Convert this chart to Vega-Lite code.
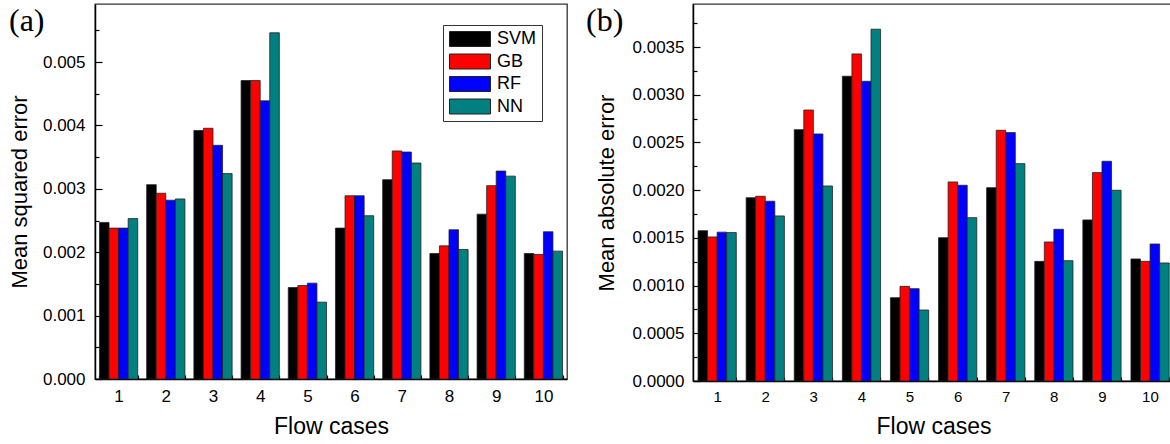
{
  "$schema": "https://vega.github.io/schema/vega-lite/v6.json",
  "padding": {"left": 7, "top": 3, "right": 0, "bottom": 0},
  "spacing": 17,
  "config": {
    "font": "Liberation Sans",
    "view": {"stroke": "#333", "strokeWidth": 1.3},
    "axis": {
      "domainColor": "#000", "domainWidth": 1.5, "tickColor": "#000", "tickWidth": 1.2,
      "labelColor": "#000", "titleColor": "#000", "labelFont": "Liberation Sans",
      "titleFont": "Liberation Sans", "titleFontWeight": "normal", "grid": false
    },
    "legend": {
      "orient": "none", "title": null,
      "symbolType": "M-2.733,-1H2.733V1H-2.733Z", "symbolSize": 225,
      "symbolStrokeColor": "#222", "symbolStrokeWidth": 1,
      "symbolOffset": 13, "labelOffset": 18,
      "labelExpr": "datum.label + ' '",
      "labelFontSize": 18, "labelFont": "Liberation Sans", "labelColor": "#000",
      "strokeColor": "#333", "fillColor": "#fff", "padding": 5, "rowPadding": 2.5
    },
    "title": {"font": "Liberation Serif", "fontSize": 32, "fontWeight": "normal", "color": "#000"}
  },
  "datasets": {
    "mse": [
      {"case": 1, "model": "SVM", "value": 0.00247}, {"case": 1, "model": "GB", "value": 0.00238}, {"case": 1, "model": "RF", "value": 0.00238}, {"case": 1, "model": "NN", "value": 0.00253},
      {"case": 2, "model": "SVM", "value": 0.003065}, {"case": 2, "model": "GB", "value": 0.00293}, {"case": 2, "model": "RF", "value": 0.00282}, {"case": 2, "model": "NN", "value": 0.00284},
      {"case": 3, "model": "SVM", "value": 0.00392}, {"case": 3, "model": "GB", "value": 0.003955}, {"case": 3, "model": "RF", "value": 0.003686}, {"case": 3, "model": "NN", "value": 0.00324},
      {"case": 4, "model": "SVM", "value": 0.004708}, {"case": 4, "model": "GB", "value": 0.004708}, {"case": 4, "model": "RF", "value": 0.004387}, {"case": 4, "model": "NN", "value": 0.005461},
      {"case": 5, "model": "SVM", "value": 0.001443}, {"case": 5, "model": "GB", "value": 0.001474}, {"case": 5, "model": "RF", "value": 0.001512}, {"case": 5, "model": "NN", "value": 0.001212},
      {"case": 6, "model": "SVM", "value": 0.00238}, {"case": 6, "model": "GB", "value": 0.00289}, {"case": 6, "model": "RF", "value": 0.00289}, {"case": 6, "model": "NN", "value": 0.002575},
      {"case": 7, "model": "SVM", "value": 0.003144}, {"case": 7, "model": "GB", "value": 0.003597}, {"case": 7, "model": "RF", "value": 0.00358}, {"case": 7, "model": "NN", "value": 0.003407},
      {"case": 8, "model": "SVM", "value": 0.00198}, {"case": 8, "model": "GB", "value": 0.0021}, {"case": 8, "model": "RF", "value": 0.002354}, {"case": 8, "model": "NN", "value": 0.002043},
      {"case": 9, "model": "SVM", "value": 0.0026}, {"case": 9, "model": "GB", "value": 0.00305}, {"case": 9, "model": "RF", "value": 0.00328}, {"case": 9, "model": "NN", "value": 0.0032},
      {"case": 10, "model": "SVM", "value": 0.00198}, {"case": 10, "model": "GB", "value": 0.001964}, {"case": 10, "model": "RF", "value": 0.002322}, {"case": 10, "model": "NN", "value": 0.002017}
    ],
    "mae": [
      {"case": 1, "model": "SVM", "value": 0.001575}, {"case": 1, "model": "GB", "value": 0.00151}, {"case": 1, "model": "RF", "value": 0.00156}, {"case": 1, "model": "NN", "value": 0.001555},
      {"case": 2, "model": "SVM", "value": 0.001921}, {"case": 2, "model": "GB", "value": 0.001936}, {"case": 2, "model": "RF", "value": 0.001884}, {"case": 2, "model": "NN", "value": 0.00173},
      {"case": 3, "model": "SVM", "value": 0.002634}, {"case": 3, "model": "GB", "value": 0.00284}, {"case": 3, "model": "RF", "value": 0.002589}, {"case": 3, "model": "NN", "value": 0.002044},
      {"case": 4, "model": "SVM", "value": 0.003194}, {"case": 4, "model": "GB", "value": 0.003428}, {"case": 4, "model": "RF", "value": 0.003141}, {"case": 4, "model": "NN", "value": 0.003687},
      {"case": 5, "model": "SVM", "value": 0.000873}, {"case": 5, "model": "GB", "value": 0.000992}, {"case": 5, "model": "RF", "value": 0.000968}, {"case": 5, "model": "NN", "value": 0.000744},
      {"case": 6, "model": "SVM", "value": 0.001502}, {"case": 6, "model": "GB", "value": 0.002086}, {"case": 6, "model": "RF", "value": 0.002051}, {"case": 6, "model": "NN", "value": 0.001712},
      {"case": 7, "model": "SVM", "value": 0.002026}, {"case": 7, "model": "GB", "value": 0.002628}, {"case": 7, "model": "RF", "value": 0.002603}, {"case": 7, "model": "NN", "value": 0.002278},
      {"case": 8, "model": "SVM", "value": 0.001254}, {"case": 8, "model": "GB", "value": 0.001457}, {"case": 8, "model": "RF", "value": 0.00159}, {"case": 8, "model": "NN", "value": 0.001261},
      {"case": 9, "model": "SVM", "value": 0.001688}, {"case": 9, "model": "GB", "value": 0.002184}, {"case": 9, "model": "RF", "value": 0.002303}, {"case": 9, "model": "NN", "value": 0.001999},
      {"case": 10, "model": "SVM", "value": 0.001279}, {"case": 10, "model": "GB", "value": 0.001254}, {"case": 10, "model": "RF", "value": 0.001436}, {"case": 10, "model": "NN", "value": 0.001237}
    ]
  },
  "hconcat": [
    {
      "width": 472, "height": 375,
      "data": {"name": "mse"},
      "title": {"text": "(a)", "anchor": "start", "frame": "group", "dx": -86, "dy": 34, "offset": 0},
      "mark": {"type": "bar", "stroke": "#222", "strokeWidth": 0.8},
      "encoding": {
        "x": {
          "field": "case", "type": "ordinal", "title": "Flow cases",
          "scale": {"paddingInner": 0.19, "paddingOuter": 0.095},
          "axis": {"labelAngle": 0, "labelFontSize": 17, "titleFontSize": 23, "tickBand": "extent", "tickSize": -4, "labelPadding": 13, "titlePadding": 11}
        },
        "xOffset": {"field": "model", "sort": ["SVM", "GB", "RF", "NN"]},
        "y": {
          "field": "value", "type": "quantitative", "title": "Mean squared error",
          "scale": {"domain": [0, 0.005915], "nice": false},
          "axis": {
            "values": [0, 0.0005, 0.001, 0.0015, 0.002, 0.0025, 0.003, 0.0035, 0.004, 0.0045, 0.005, 0.0055],
            "labelExpr": "abs(datum.value*1000 - round(datum.value*1000)) < 1e-6 ? format(datum.value, '.3f') : ''",
            "tickSize": {"condition": {"test": "abs(datum.value*1000 - round(datum.value*1000)) < 1e-6", "value": -7}, "value": -4},
            "labelFontSize": 17, "titleFontSize": 22, "labelPadding": 17, "titlePadding": 11
          }
        },
        "color": {
          "field": "model", "type": "nominal",
          "scale": {"domain": ["SVM", "GB", "RF", "NN"], "range": ["#000000", "#ff0000", "#0000ff", "#008080"]},
          "legend": {"legendX": 348, "legendY": 21}
        }
      }
    },
    {
      "width": 481, "height": 377,
      "data": {"name": "mae"},
      "title": {"text": "(b)", "anchor": "start", "frame": "group", "dx": -107, "dy": 34, "offset": 0},
      "mark": {"type": "bar", "stroke": "#222", "strokeWidth": 0.8},
      "encoding": {
        "x": {
          "field": "case", "type": "ordinal", "title": "Flow cases",
          "scale": {"paddingInner": 0.21, "paddingOuter": 0.105},
          "axis": {"labelAngle": 0, "labelFontSize": 15, "titleFontSize": 23, "tickBand": "extent", "tickSize": -4, "labelPadding": 12, "titlePadding": 11}
        },
        "xOffset": {"field": "model", "sort": ["SVM", "GB", "RF", "NN"]},
        "y": {
          "field": "value", "type": "quantitative", "title": "Mean absolute error",
          "scale": {"domain": [0, 0.003951], "nice": false},
          "axis": {
            "values": [0, 0.00025, 0.0005, 0.00075, 0.001, 0.00125, 0.0015, 0.00175, 0.002, 0.00225, 0.0025, 0.00275, 0.003, 0.00325, 0.0035, 0.00375],
            "labelExpr": "abs(datum.value*2000 - round(datum.value*2000)) < 1e-6 ? format(datum.value, '.4f') : ''",
            "tickSize": {"condition": {"test": "abs(datum.value*2000 - round(datum.value*2000)) < 1e-6", "value": -7}, "value": -4},
            "labelFontSize": 17, "titleFontSize": 22, "labelPadding": 16, "titlePadding": 14
          }
        },
        "color": {
          "field": "model", "type": "nominal",
          "scale": {"domain": ["SVM", "GB", "RF", "NN"], "range": ["#000000", "#ff0000", "#0000ff", "#008080"]},
          "legend": {"legendX": 352, "legendY": 15}
        }
      }
    }
  ]
}
